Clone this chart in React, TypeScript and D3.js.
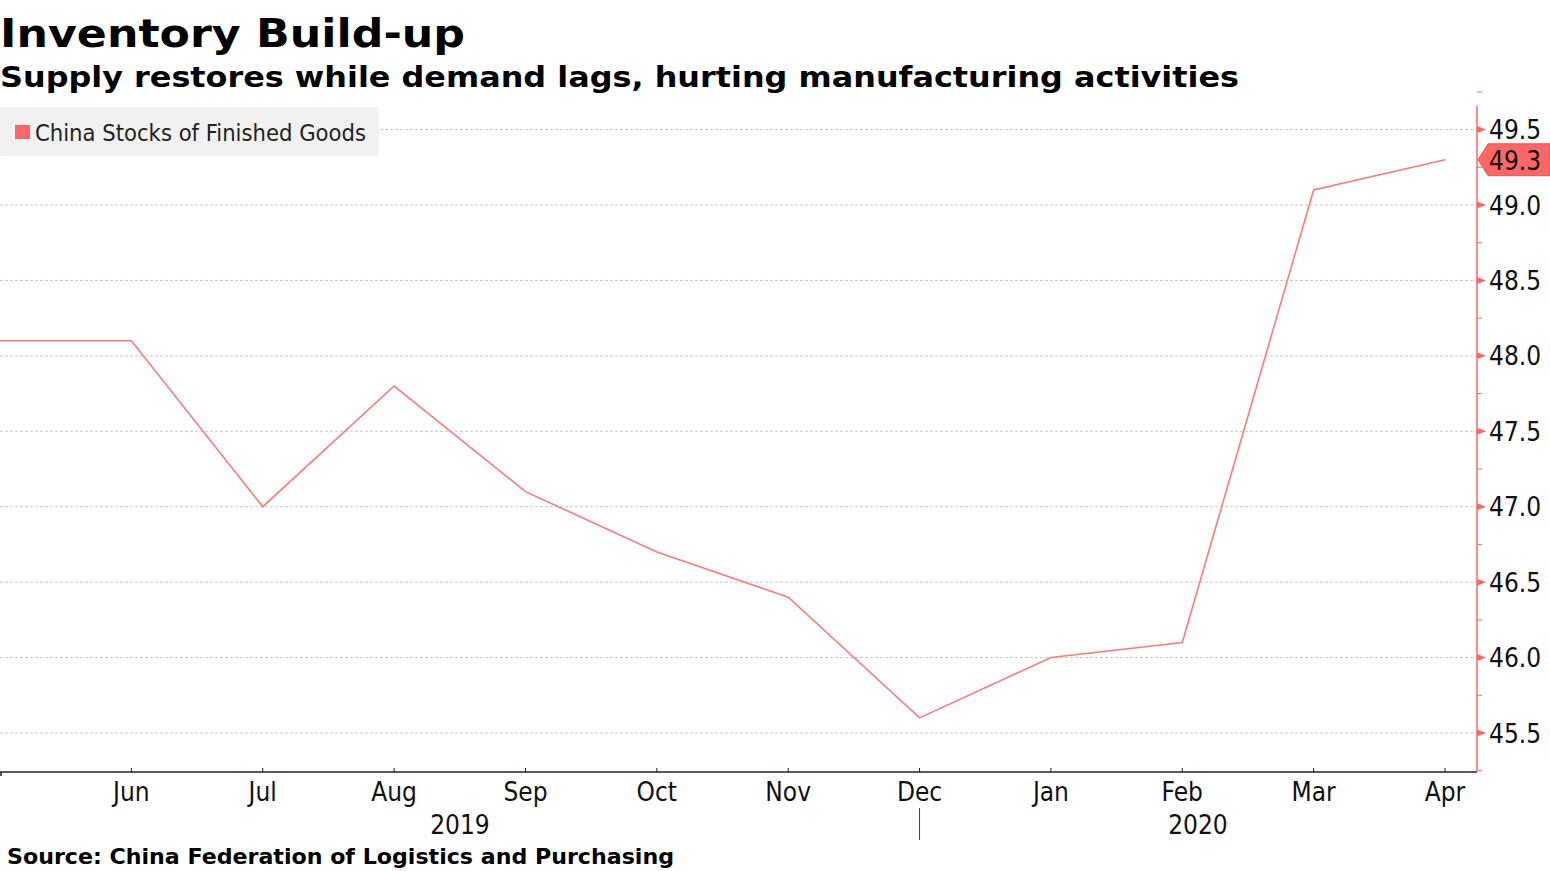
import React, { useEffect, useRef } from "react";
import * as d3 from "d3";

const months = ["May", "Jun", "Jul", "Aug", "Sep", "Oct", "Nov", "Dec", "Jan", "Feb", "Mar", "Apr"];
const values = [48.1, 48.1, 47.0, 47.8, 47.1, 46.7, 46.4, 45.6, 46.0, 46.1, 49.1, 49.3];
const yTicks = [45.5, 46.0, 46.5, 47.0, 47.5, 48.0, 48.5, 49.0, 49.5];
const yMinorTicks = [45.25, 45.75, 46.25, 46.75, 47.25, 47.75, 48.25, 48.75, 49.25, 49.75];
const years = [
  { label: "2019", pos: 460 },
  { label: "2020", pos: 1198 },
];
const title = "Inventory Build-up";
const subtitle = "Supply restores while demand lags, hurting manufacturing activities";
const seriesName = "China Stocks of Finished Goods";
const source = "Source: China Federation of Logistics and Purchasing";

const W = 1550;
const H = 871;
const RED = "#ff6666";
const LINE = "#ff7b7b";
const COND = "'DejaVu Sans Condensed', 'DejaVu Sans', sans-serif";
const BOLD = "'DejaVu Sans', sans-serif";

export default function App() {
  const ref = useRef<SVGSVGElement>(null);

  useEffect(() => {
    const svg = d3.select(ref.current);
    svg.selectAll("*").remove();

    const axisX = 1477;
    const axisBottom = 772;
    const x = d3.scalePoint<string>().domain(months).range([0, 1445]);
    const y = d3.scaleLinear().domain([45.5, 49.0]).range([733, 205]);

    // titles
    svg.append("text").attr("x", 0).attr("y", 47).attr("font-family", BOLD).attr("font-weight", "bold")
      .attr("font-size", 39).attr("fill", "#000").attr("textLength", 465).attr("lengthAdjust", "spacingAndGlyphs")
      .text(title);
    svg.append("text").attr("x", 0).attr("y", 87).attr("font-family", BOLD).attr("font-weight", "bold")
      .attr("font-size", 29).attr("fill", "#000").attr("textLength", 1239).attr("lengthAdjust", "spacingAndGlyphs")
      .text(subtitle);

    // gridlines
    svg.append("g").selectAll("line").data(yTicks).join("line")
      .attr("x1", 0).attr("x2", axisX)
      .attr("y1", (d) => y(d)).attr("y2", (d) => y(d))
      .attr("stroke", "#c8c8c8").attr("stroke-width", 1).attr("stroke-dasharray", "3,2");

    // legend
    svg.append("rect").attr("x", 0).attr("y", 107).attr("width", 379).attr("height", 49).attr("rx", 2)
      .attr("fill", "#f1f1f1");
    svg.append("rect").attr("x", 15).attr("y", 125).attr("width", 15).attr("height", 14).attr("fill", RED);
    svg.append("text").attr("x", 35).attr("y", 141).attr("font-family", COND).attr("font-size", 23.5)
      .attr("fill", "#222").attr("textLength", 331).attr("lengthAdjust", "spacingAndGlyphs").text(seriesName);

    // line
    const line = d3.line<number>().x((_, i) => x(months[i])!).y((d) => y(d));
    svg.append("path").datum(values).attr("d", line).attr("fill", "none").attr("stroke", LINE)
      .attr("stroke-width", 1.6);

    // x axis
    svg.append("line").attr("x1", 0).attr("x2", axisX).attr("y1", axisBottom).attr("y2", axisBottom)
      .attr("stroke", "#222").attr("stroke-width", 1.5);
    svg.append("line").attr("x1", 1).attr("x2", 1).attr("y1", axisBottom).attr("y2", axisBottom + 4)
      .attr("stroke", "#222").attr("stroke-width", 1.5);
    const xt = svg.append("g");
    months.slice(1).forEach((m) => {
      const px = x(m)!;
      xt.append("line").attr("x1", px).attr("x2", px).attr("y1", axisBottom - 4).attr("y2", axisBottom)
        .attr("stroke", "#222").attr("stroke-width", 1);
      xt.append("text").attr("x", px).attr("y", 801).attr("text-anchor", "middle")
        .attr("font-family", COND).attr("font-size", 26).attr("fill", "#111").text(m);
    });
    years.forEach((yr) => {
      svg.append("text").attr("x", yr.pos).attr("y", 834).attr("text-anchor", "middle")
        .attr("font-family", COND).attr("font-size", 26).attr("fill", "#111").text(yr.label);
    });
    const sepX = x("Dec")!;
    svg.append("line").attr("x1", sepX).attr("x2", sepX).attr("y1", 808).attr("y2", 840)
      .attr("stroke", "#444").attr("stroke-width", 1);

    // y axis (right)
    svg.append("line").attr("x1", axisX).attr("x2", axisX).attr("y1", 106).attr("y2", axisBottom)
      .attr("stroke", RED).attr("stroke-width", 1.5);
    const ya = svg.append("g");
    yMinorTicks.forEach((t) => {
      ya.append("line").attr("x1", axisX).attr("x2", axisX + 5).attr("y1", y(t)).attr("y2", y(t))
        .attr("stroke", RED).attr("stroke-width", 1);
    });
    yTicks.forEach((t) => {
      const py = y(t);
      ya.append("path").attr("d", `M${axisX},${py - 3.5}L${axisX + 9},${py}L${axisX},${py + 3.5}Z`)
        .attr("fill", RED);
      ya.append("text").attr("x", 1489).attr("y", py + 9.5).attr("font-family", COND).attr("font-size", 26)
        .attr("fill", "#111").text(d3.format(".1f")(t));
    });

    // last value label
    const last = values[values.length - 1];
    const ly = y(last);
    svg.append("path")
      .attr("d", `M${axisX + 1},${ly}L${axisX + 11},${ly - 16}L${W},${ly - 16}L${W},${ly + 16}L${axisX + 11},${ly + 16}Z`)
      .attr("fill", RED).attr("stroke", "#d04848").attr("stroke-width", 0.8);
    svg.append("text").attr("x", 1489).attr("y", ly + 10).attr("font-family", COND).attr("font-size", 26)
      .attr("fill", "#111").text(d3.format(".1f")(last));

    // source
    svg.append("text").attr("x", 7).attr("y", 864).attr("font-family", BOLD).attr("font-weight", "bold")
      .attr("font-size", 21).attr("fill", "#000").attr("textLength", 667).attr("lengthAdjust", "spacingAndGlyphs")
      .text(source);
  }, []);

  return (
    <svg ref={ref} width={W} height={H}
      style={{ position: "absolute", left: 0, top: 0, background: "#fff", display: "block" }} />
  );
}
